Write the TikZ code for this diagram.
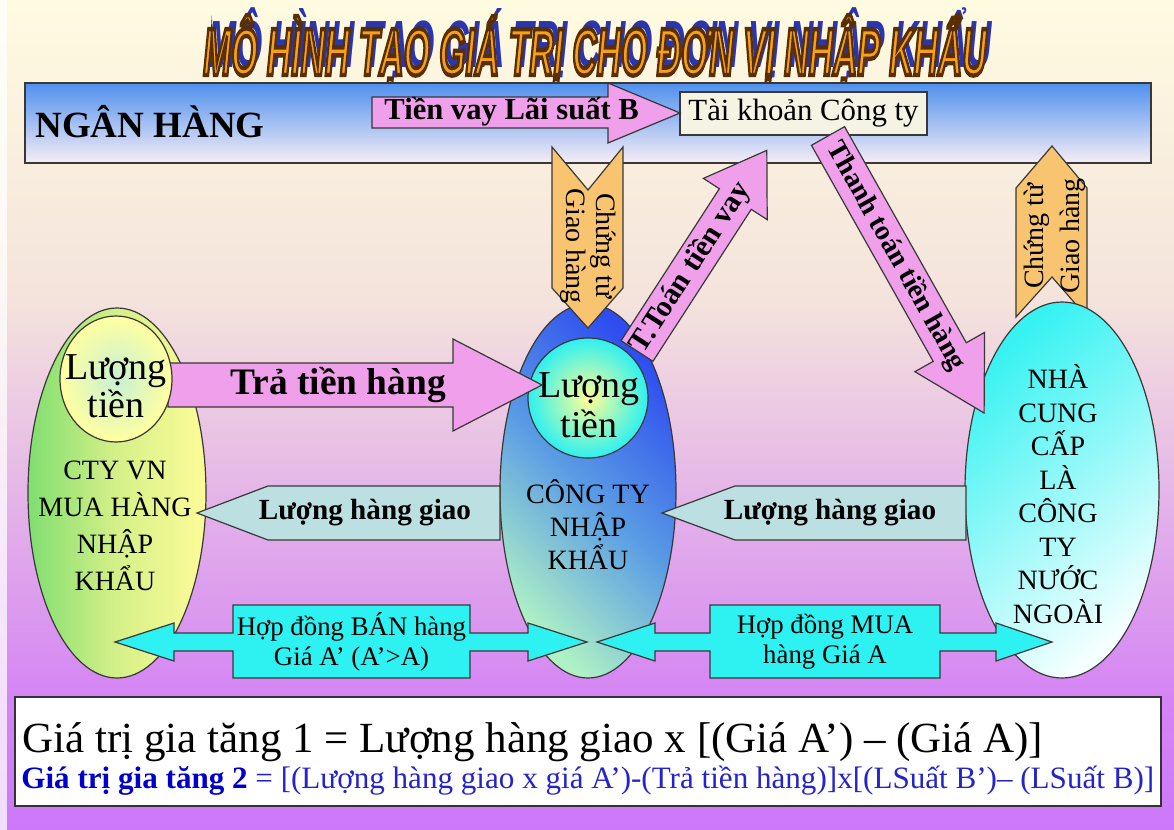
\documentclass[tikz,border=0pt]{standalone}
\usepackage{fontspec}
\setmainfont{Liberation Serif}
\newfontfamily\titlefont{Liberation Sans}

\definecolor{bgA}{HTML}{FFFBE0}
\definecolor{bgB}{HTML}{F4E3DC}
\definecolor{bgC}{HTML}{E6B6E6}
\definecolor{bgD}{HTML}{D484F4}
\definecolor{bgE}{HTML}{CC78FA}
\definecolor{pinkA}{HTML}{F0A0EA}
\definecolor{orangeA}{HTML}{F8C470}
\definecolor{tealA}{HTML}{BCDFE2}
\definecolor{cyanA}{HTML}{2EF2F2}
\definecolor{acctA}{HTML}{F5F3E4}
\definecolor{bankT}{HTML}{4F90EE}
\definecolor{bankM}{HTML}{B8D0EE}
\definecolor{bankB}{HTML}{F6EEF6}
\definecolor{lgreen}{HTML}{80DE70}
\definecolor{lmid}{HTML}{D6F088}
\definecolor{lyellow}{HTML}{FCFC98}
\definecolor{lcin}{HTML}{C8F0D4}
\definecolor{lcout}{HTML}{FFFFA0}
\definecolor{mblue}{HTML}{2E4CF0}
\definecolor{mmid}{HTML}{5A9CE4}
\definecolor{mgreen}{HTML}{B0F2C4}
\definecolor{myellow}{HTML}{FFFF96}
\definecolor{mcyan}{HTML}{2EF0F0}
\definecolor{rcyan}{HTML}{38F2F2}
\definecolor{rwhite}{HTML}{F6FFFF}
\definecolor{titleorange}{HTML}{F7A11A}
\definecolor{titleblue}{HTML}{2A35B0}
\definecolor{formblue}{HTML}{0000CC}
\definecolor{formblueB}{HTML}{2424CC}

\newcommand\titletext{MÔ HÌNH TẠO GIÁ TRỊ CHO ĐƠN VỊ NHẬP KHẨU}
\newcommand\titleface{\titlefont\bfseries\itshape\fontsize{33.4}{36}\selectfont}
% orange letters stroked with a dark brown rim (fill and stroke text mode)
\newcommand\titleorangebox{\scalebox{0.505}[1]{\color{titleorange}%
  \special{pdf:literal direct 2 Tr 2.2 w 0.35 0.18 0 RG}%
  \titleface\titletext
  \special{pdf:literal direct 0 Tr}}}
% blue shadow behind, taking no width
\newcommand\titleshadow{\makebox[0pt][l]{\hspace*{2.6pt}\raisebox{3.6pt}{%
  \scalebox{0.505}[1]{\color{titleblue}\titleface\titletext}}}}

\begin{document}
\begin{tikzpicture}[x=0.5pt, y=-0.5pt,
  outl/.style={draw=black!78, line width=0.6pt},
  pinkarr/.style={outl, fill=pinkA},
  orangearr/.style={outl, fill=orangeA},
  tealarr/.style={outl, fill=tealA},
  cyanarr/.style={outl, fill=cyanA},
  lbl/.style={inner sep=0pt, align=center},
  boldlbl/.style={lbl, font=\bfseries\fontsize{14.6}{16}\selectfont},
  caps/.style={lbl, font=\fontsize{14}{#1}\selectfont},
  circtext/.style={lbl, font=\fontsize{19}{#1}\selectfont},
  contract/.style={lbl, font=\fontsize{13.4}{15}\selectfont},
]
\useasboundingbox (0,0) rectangle (1174,830);

% background: cream at the top fading to violet at the bottom
\shade[top color=bgA, bottom color=bgB] (0,0) rectangle (1174,301);
\shade[top color=bgB, middle color=bgC, bottom color=bgD] (0,300) rectangle (1174,701);
\shade[top color=bgD, bottom color=bgE] (0,700) rectangle (1174,830);
\fill[white, opacity=0.75] (0,0) rectangle (7,830);

% title
\node[anchor=base, inner sep=0pt] (title) at (595,75) {\titleshadow\titleorangebox};

% bank bar
\path[outl, top color=bankT, middle color=bankM, bottom color=bankB] (25,83) rectangle (1151,163);
\node[anchor=base west, inner sep=0pt, font=\bfseries\fontsize{18.5}{20}\selectfont] (bank) at (35,137) {NGÂN HÀNG};
\node[outl, fill=acctA, minimum width=123.5pt, minimum height=21.5pt, inner sep=0pt,
      font=\fontsize{15.4}{16}\selectfont] (acct) at (803.5,113.5) {Tài khoản Công ty};

% loan arrow into the account
\draw[pinkarr] (372,97) -- (608,97) -- (608,83) -- (680,113) -- (608,143) -- (608,128) -- (372,128) -- cycle;
\node[anchor=west, inner sep=0pt, font=\bfseries\fontsize{15.3}{16}\selectfont] (loan) at (384,112) {Tiền vay Lãi suất B};

% delivery documents going up to the bank (supplier side)
\draw[orangearr] (1052,146) -- (1087,188) -- (1087,317) -- (1052,277) -- (1016,317) -- (1016,188) -- cycle;
\node[rotate=90, lbl, font=\fontsize{14}{18}\selectfont] (docs-r) at (1055,236) {Chứng từ\\Giao hàng};

% the three companies
\path[outl, left color=lgreen, right color=lyellow, middle color=lmid] (117,493) ellipse [x radius=89, y radius=185];
\path[outl, top color=mblue, bottom color=mgreen, middle color=mmid, shading angle=-45] (588,491) ellipse [x radius=88, y radius=187];
\path[outl, top color=rcyan, bottom color=rwhite, shading angle=40] (1062,490) ellipse [x radius=97, y radius=188];

% delivery documents coming down from the bank (importer side)
\draw[orangearr] (552,147) -- (588,190) -- (623,147) -- (623,288) -- (588,328) -- (552,288) -- cycle;
\node[rotate=-90, lbl, font=\fontsize{14}{15}\selectfont] (docs-l) at (588,246) {Chứng từ\\Giao hàng};

% money held by the importer
\path[outl, inner color=myellow, outer color=mcyan] (588,398) circle [radius=60];
\node[circtext=20pt] (cash-m) at (589,405) {Lượng\\tiền};

% loan repayment
\begin{scope}[shift={(637,351)}, rotate=57.1]
  \draw[pinkarr] (0,-19) -- (181,-19) -- (181,-38) -- (239,0) -- (181,38) -- (181,19) -- (0,19) -- cycle;
  \node[transform shape, inner sep=0pt, font=\bfseries\fontsize{15}{16}\selectfont] (repay) at (99,0) {T.Toán tiền vay};
\end{scope}

% payment to the supplier
\begin{scope}[shift={(828,136)}, rotate=-60.6]
  \draw[pinkarr] (0,-19) -- (248,-19) -- (248,-40) -- (318,0) -- (248,40) -- (248,19) -- (0,19) -- cycle;
  \node[transform shape, inner sep=0pt, font=\bfseries\fontsize{14}{16}\selectfont] (payment) at (138,0) {Thanh toán tiền hàng};
\end{scope}

% payment for goods
\draw[pinkarr] (168,363) -- (453,363) -- (453,339) -- (542,385) -- (453,431) -- (453,407) -- (168,407) -- cycle;
\node[anchor=west, inner sep=0pt, font=\bfseries\fontsize{18.7}{20}\selectfont] (pay-goods) at (230,385) {Trả tiền hàng};

% money held by the Vietnamese buyer
\path[outl, inner color=lcin, outer color=lcout] (116,379) ellipse [x radius=56, y radius=63];
\node[circtext=19pt] (cash-l) at (116,386) {Lượng\\tiền};

% company labels
\node[caps=18.5pt] (buyer) at (115,526) {CTY VN\\MUA HÀNG\\NHẬP\\KHẨU};
\node[caps=16.5pt] (importer) at (588,525) {CÔNG TY\\NHẬP\\KHẨU};
\node[caps=16.75pt] (supplier) at (1058,494) {NHÀ\\CUNG\\CẤP\\LÀ\\CÔNG\\TY\\NƯỚC\\NGOÀI};

% goods delivered
\draw[tealarr] (197,513) -- (268,486) -- (500,486) -- (500,540) -- (268,540) -- cycle;
\node[boldlbl] (goods-l) at (365,513) {Lượng hàng giao};
\draw[tealarr] (662,513) -- (735,486) -- (966,486) -- (966,540) -- (735,540) -- cycle;
\node[boldlbl] (goods-r) at (830,513) {Lượng hàng giao};

% contracts
\draw[cyanarr] (115,642) -- (174,623) -- (174,633) -- (233,633) -- (233,605) -- (470,605) -- (470,633)
  -- (528,633) -- (528,623) -- (587,642) -- (528,661) -- (528,651) -- (470,651) -- (470,678)
  -- (233,678) -- (233,651) -- (174,651) -- (174,661) -- cycle;
\node[contract] (sell) at (351.5,642) {Hợp đồng BÁN hàng\\Giá A’ (A’>A)};
\draw[cyanarr] (597,642) -- (655,623) -- (655,633) -- (710,633) -- (710,605) -- (940,605) -- (940,633)
  -- (996,633) -- (996,623) -- (1052,642) -- (996,661) -- (996,651) -- (940,651) -- (940,678)
  -- (710,678) -- (710,651) -- (655,651) -- (655,661) -- cycle;
\node[contract] (buy) at (825,642) {Hợp đồng MUA\\hàng Giá A};

% value added formulas
\draw[draw=black!80, line width=0.8pt, fill=white] (15,697) rectangle (1161,806);
\node[anchor=base west, inner sep=0pt, font=\fontsize{21.5}{24}\selectfont] (va1) at (22,752)
  {Giá trị gia tăng 1 = Lượng hàng giao x [(Giá A’) – (Giá A)]};
\node[anchor=base west, inner sep=0pt, font=\fontsize{15.55}{17}\selectfont] (va2) at (21,788)
  {\textcolor{formblue}{\bfseries Giá trị gia tăng 2} \textcolor{formblueB}{= [(Lượng hàng giao x giá A’)-(Trả tiền hàng)]x[(LSuất B’)– (LSuất B)]}};
\end{tikzpicture}
\end{document}
